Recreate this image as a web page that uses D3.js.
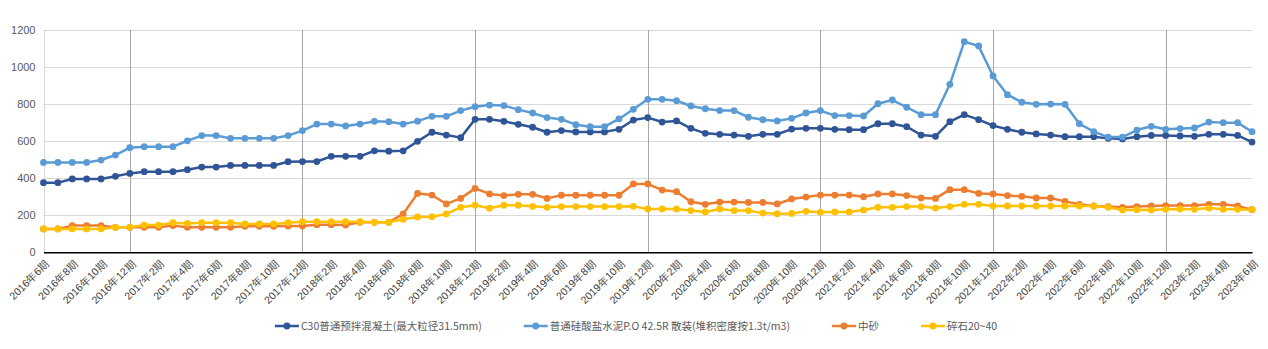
<!DOCTYPE html>
<html>
<head>
<meta charset="utf-8">
<script src="https://cdn.jsdelivr.net/npm/d3@7"></script>
<style>
  body { margin: 0; background: #fff; }
  svg { display: block; font-family: "Noto Sans CJK SC", "Noto Sans", sans-serif; }
</style>
</head>
<body>
<div id="chart"></div>
<script>
const periods = [
  "2016年6期","2016年7期","2016年8期","2016年9期","2016年10期","2016年11期","2016年12期",
  "2017年1期","2017年2期","2017年3期","2017年4期","2017年5期","2017年6期","2017年7期","2017年8期","2017年9期","2017年10期","2017年11期","2017年12期",
  "2018年1期","2018年2期","2018年3期","2018年4期","2018年5期","2018年6期","2018年7期","2018年8期","2018年9期","2018年10期","2018年11期","2018年12期",
  "2019年1期","2019年2期","2019年3期","2019年4期","2019年5期","2019年6期","2019年7期","2019年8期","2019年9期","2019年10期","2019年11期","2019年12期",
  "2020年1期","2020年2期","2020年3期","2020年4期","2020年5期","2020年6期","2020年7期","2020年8期","2020年9期","2020年10期","2020年11期","2020年12期",
  "2021年1期","2021年2期","2021年3期","2021年4期","2021年5期","2021年6期","2021年7期","2021年8期","2021年9期","2021年10期","2021年11期","2021年12期",
  "2022年1期","2022年2期","2022年3期","2022年4期","2022年5期","2022年6期","2022年7期","2022年8期","2022年9期","2022年10期","2022年11期","2022年12期",
  "2023年1期","2023年2期","2023年3期","2023年4期","2023年5期","2023年6期"
];

const concrete = [
  376,376,396,396,396,410,426,435,435,435,446,460,460,469,469,469,469,489,490,490,
  518,518,518,548,546,548,599,648,633,619,718,718,707,691,675,648,657,650,650,650,664,
  714,727,703,709,669,642,637,633,626,637,637,665,669,669,664,662,662,694,694,678,633,626,
  705,743,716,684,664,648,639,633,624,624,624,615,612,624,631,631,628,626,637,637,631,595
];
const cement = [
  485,485,485,485,498,525,565,570,570,570,602,630,630,615,615,615,615,630,657,692,
  692,682,692,707,705,692,708,734,734,765,786,795,792,770,752,727,718,689,678,678,720,
  772,826,826,818,790,775,765,765,729,716,709,723,752,765,738,738,736,802,822,783,743,743,
  907,1137,1114,952,851,810,799,800,799,694,651,622,622,660,680,664,668,671,703,700,700,651
];
const sand = [
  126,126,144,144,144,135,135,135,135,144,135,135,135,135,140,140,140,142,142,149,
  149,147,162,162,162,207,318,309,261,291,345,315,306,313,313,291,308,308,308,308,308,
  369,369,336,327,273,259,271,271,269,269,261,288,298,309,309,309,300,315,315,306,293,291,
  338,338,318,315,306,302,293,293,275,259,250,247,243,247,250,252,252,252,259,259,250,230
];
const gravel = [
  126,126,126,126,126,135,135,147,147,160,156,160,160,160,153,153,153,160,165,165,
  165,165,165,162,162,178,191,192,207,243,254,238,254,254,248,243,247,247,247,247,247,
  248,234,234,234,225,218,234,225,225,212,208,210,221,216,218,218,228,243,243,247,247,239,
  247,259,259,250,250,250,250,250,250,250,250,243,228,230,228,232,234,232,239,232,232,230
];

const seriesNames = [
  "C30普通预拌混凝土(最大粒径31.5mm)",
  "普通硅酸盐水泥P.O 42.5R 散装(堆积密度按1.3t/m3)",
  "中砂",
  "碎石20~40"
];
const yTicks = [0, 200, 400, 600, 800, 1000, 1200];

const series = [
  { name: seriesNames[0], values: concrete, color: "#2f5597" },
  { name: seriesNames[1], values: cement, color: "#5b9bd5" },
  { name: seriesNames[2], values: sand, color: "#ed7d31" },
  { name: seriesNames[3], values: gravel, color: "#ffc000" }
];

const width = 1268, height = 349;
const plot = { left: 43.5, right: 1252, top: 30, bottom: 252.3 };

const svg = d3.select('#chart')
    .append('svg')
    .attr('width', width)
    .attr('height', height);

const x = d3.scalePoint()
    .domain(periods)
    .range([plot.left, plot.right]);

const y = d3.scaleLinear()
    .domain([0, 1200])
    .range([plot.bottom, plot.top]);

// horizontal grid
svg.append('g')
    .selectAll('line')
    .data(yTicks.filter(d => d > 0))
    .join('line')
    .attr('x1', plot.left).attr('x2', plot.right)
    .attr('y1', d => Math.round(y(d)) + 0.5).attr('y2', d => Math.round(y(d)) + 0.5)
    .attr('stroke', '#d9d9d9');

// left light border
svg.append('line')
    .attr('x1', Math.round(plot.left) + 0.5).attr('x2', Math.round(plot.left) + 0.5)
    .attr('y1', plot.top).attr('y2', plot.bottom)
    .attr('stroke', '#d9d9d9');

// vertical lines at each December
svg.append('g')
    .selectAll('line')
    .data(periods.filter(p => p.endsWith('年12期')))
    .join('line')
    .attr('x1', d => Math.round(x(d)) + 0.5).attr('x2', d => Math.round(x(d)) + 0.5)
    .attr('y1', plot.top).attr('y2', plot.bottom)
    .attr('stroke', '#a6a6a6');

// Y axis labels
const yAxis = svg.append('g')
    .attr('transform', `translate(${plot.left},0)`)
    .call(d3.axisLeft(y).tickValues(yTicks).tickFormat(d3.format('d')).tickSize(0).tickPadding(8));
yAxis.select('.domain').remove();
yAxis.selectAll('text')
    .attr('fill', '#595959')
    .style('font-size', '11px');

// X axis
const xAxis = svg.append('g')
    .attr('transform', `translate(0,${plot.bottom})`)
    .call(d3.axisBottom(x)
        .tickValues(periods.filter((p, i) => i % 2 === 0))
        .tickSize(0));
xAxis.select('.domain')
    .attr('stroke', '#000')
    .attr('stroke-width', 1.5);
xAxis.selectAll('text')
    .attr('fill', '#404040')
    .style('font-size', '10.5px')
    .attr('text-anchor', 'end')
    .attr('dy', null)
    .attr('y', 0)
    .attr('transform', 'translate(4,10) rotate(-45)')
    .attr('dominant-baseline', 'middle');

// lines and markers
const line = d3.line()
    .x((d, i) => x(periods[i]))
    .y(d => y(d));

series.forEach(s => {
  const g = svg.append('g');
  g.append('path')
      .datum(s.values)
      .attr('fill', 'none')
      .attr('stroke', s.color)
      .attr('stroke-width', 2.5)
      .attr('stroke-linejoin', 'round')
      .attr('d', line);
  g.selectAll('circle')
      .data(s.values)
      .join('circle')
      .attr('cx', (d, i) => x(periods[i]))
      .attr('cy', d => y(d))
      .attr('r', 3.4)
      .attr('fill', s.color);
});

// legend
const legend = svg.append('g').attr('transform', 'translate(0,326)');
const items = legend.selectAll('g')
    .data(series)
    .join('g');
items.append('line')
    .attr('x1', 0).attr('x2', 24)
    .attr('stroke', d => d.color)
    .attr('stroke-width', 2.5);
items.append('circle')
    .attr('cx', 12).attr('r', 3.4)
    .attr('fill', d => d.color);
items.append('text')
    .attr('x', 26)
    .attr('dy', '0.35em')
    .attr('fill', '#595959')
    .style('font-size', '10.5px')
    .text(d => d.name);

let pos = 0;
const offsets = [];
items.each(function() {
  offsets.push(pos);
  pos += 26 + this.querySelector('text').getComputedTextLength() + 42;
});
const total = pos - 42;
const start = 636 - total / 2;
items.attr('transform', (d, i) => `translate(${start + offsets[i]},0)`);
</script>
</body>
</html>
